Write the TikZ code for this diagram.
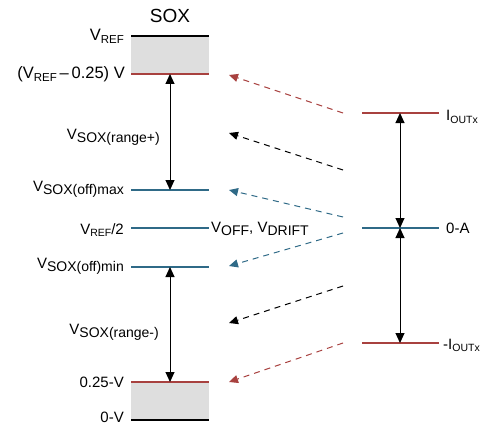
\documentclass[tikz,border=0pt]{standalone}
\usepackage{fontspec}
\setmainfont{Liberation Sans}
\usetikzlibrary{arrows.meta}
\definecolor{myred}{HTML}{A8413F}
\definecolor{myteal}{HTML}{2F6A87}
\definecolor{mygray}{HTML}{DEDEDE}
\newcommand\subA[1]{\raisebox{-3pt}{\fontsize{14}{14}\selectfont #1}}
\newcommand\subB[1]{\raisebox{-2.5pt}{\fontsize{10.5}{10.5}\selectfont #1}}
\newcommand\subC[1]{\raisebox{-2.5pt}{\fontsize{11.5}{11.5}\selectfont #1}}
\begin{document}
\begin{tikzpicture}[x=1pt,y=-1pt,
  bar/.style={line width=2pt},
  lbl/.style={inner sep=0pt, font=\fontsize{15}{15}\selectfont},
  lblbig/.style={inner sep=0pt, font=\fontsize{16.5}{16.5}\selectfont},
  dbl/.style={{Triangle[length=10pt,width=9pt]}-{Triangle[length=10pt,width=9pt]}, line width=1pt},
  dsharrow/.style={-{Triangle[length=9pt,width=8pt]}, dash pattern=on 6pt off 5pt, line width=1pt}]
\useasboundingbox (0,0) rectangle (481,425);
% grey bands
\fill[mygray] (131,36) rectangle (209,74);
\fill[mygray] (131,382) rectangle (209,420);
% left bars
\foreach \n/\y in {vref/36, vrefm/74, offmax/190, half/228, offmin/267, qv/382, zv/420}{
  \coordinate (\n L) at (131,\y);
  \coordinate (\n R) at (209,\y);
  \coordinate (\n M) at (170,\y);
}
\draw[bar,black] (vrefL) -- (vrefR);
\draw[bar,myred] (vrefmL) -- (vrefmR);
\draw[bar,myteal] (offmaxL) -- (offmaxR);
\draw[bar,myteal] (halfL) -- (halfR);
\draw[bar,myteal] (offminL) -- (offminR);
\draw[bar,myred] (qvL) -- (qvR);
\draw[bar,black] (zvL) -- (zvR);
% right bars
\foreach \n/\y in {ip/113, za/228, im/343}{
  \coordinate (\n L) at (362,\y);
  \coordinate (\n R) at (439,\y);
  \coordinate (\n M) at (400,\y);
}
\draw[bar,myred] (ipL) -- (ipR);
\draw[bar,myteal] (zaL) -- (zaR);
\draw[bar,myred] (imL) -- (imR);
% vertical arrows
\draw[dbl] (vrefmM) -- (offmaxM);
\draw[dbl] (offminM) -- (qvM);
\draw[dbl] (ipM) -- (zaM);
\draw[dbl] (zaM) -- (imM);
% dashed arrow end points
\coordinate (a1s) at (343,113); \coordinate (a1e) at (229,75);
\coordinate (a2s) at (343,170); \coordinate (a2e) at (229,133);
\coordinate (a3s) at (343,217); \coordinate (a3e) at (229,190);
\coordinate (a4s) at (343,233); \coordinate (a4e) at (229,266);
\coordinate (a5s) at (343,286); \coordinate (a5e) at (229,323);
\coordinate (a6s) at (343,343); \coordinate (a6e) at (229,382);
\draw[dsharrow,myred] (a1s) -- (a1e);
\draw[dsharrow,black] (a2s) -- (a2e);
\draw[dsharrow,myteal] (a3s) -- (a3e);
\draw[dsharrow,myteal] (a4s) -- (a4e);
\draw[dsharrow,black] (a5s) -- (a5e);
\draw[dsharrow,myred] (a6s) -- (a6e);
% labels
\node[inner sep=0pt, font=\fontsize{19}{19}\selectfont] (sox) at (170,16) {SOX};
\node[lblbig, anchor=base east] (lvref) at (124,41) {V\subC{REF}};
\node[lblbig, anchor=base east] (lvrefm) at (125,79) {(V\subC{REF}\,\textendash\,0.25) V};
\node[lbl, anchor=base east] (lrp) at (160,139) {V\subA{SOX(range+)}};
\node[lbl, anchor=base east] (loffmax) at (124,191) {V\subA{SOX(off)max}};
\node[lbl, anchor=base east] (lhalf) at (124,234) {V\subB{REF}/2};
\node[lbl, anchor=base east] (loffmin) at (124,268) {V\subA{SOX(off)min}};
\node[lbl, anchor=base east] (lrm) at (159,334) {V\subA{SOX(range-)}};
\node[lbl, anchor=base east] (lqv) at (124,387) {0.25-V};
\node[lbl, anchor=base east] (lzv) at (124,422) {0-V};
\node[lbl, anchor=base west] (ldrift) at (211,232) {V\subA{OFF}, V\subA{DRIFT}};
\node[lbl, anchor=base west] (lip) at (446,121) {I\subB{OUTx}};
\node[lbl, anchor=base west] (lza) at (446,233) {0-A};
\node[lbl, anchor=base west] (lim) at (443,349) {-I\subB{OUTx}};
\end{tikzpicture}
\end{document}
